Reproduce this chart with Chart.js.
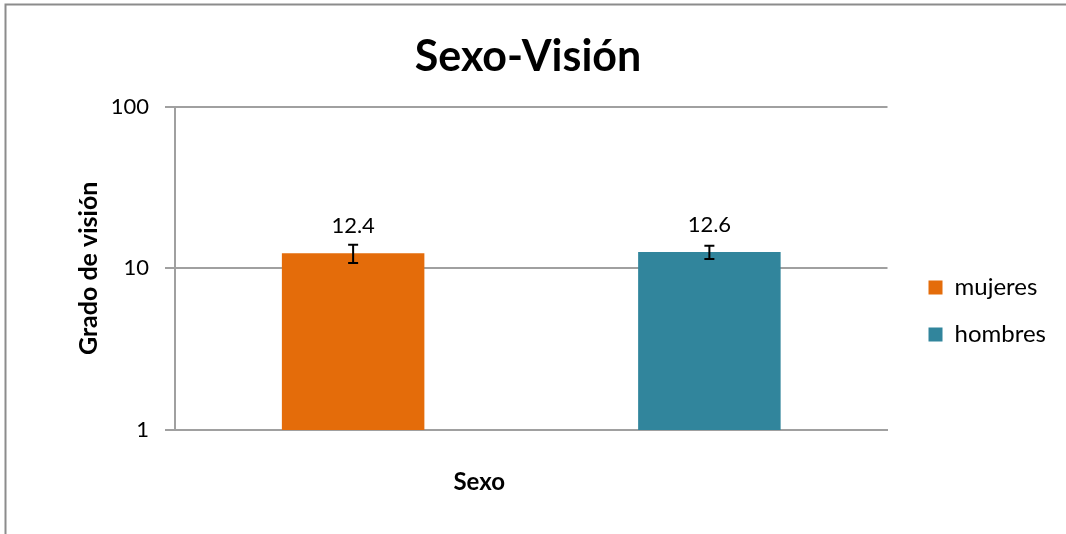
<!DOCTYPE html>
<html>
<head>
<meta charset="utf-8">
<script src="https://cdn.jsdelivr.net/npm/chart.js@4"></script>
<style>
  html, body { margin: 0; padding: 0; background: #fff; }
  #wrap { width: 1066px; height: 534px; }
</style>
</head>
<body>
<div id="wrap"><canvas id="chart"></canvas></div>
<script>
// Data
const categories = ['mujeres', 'hombres'];
const mujeresValues = [12.4, null];
const hombresValues = [null, 12.6];
const mujeresErrors = [1.6, null];
const hombresErrors = [null, 1.2];
const yTicks = [1, 10, 100];

const FONT = 'Lato';
const GRID = '#a0a0a0';

// White background and the grey frame round the chart
const framePlugin = {
    id: 'frame',
    beforeDraw(chart) {
        const ctx = chart.ctx;
        ctx.save();
        ctx.fillStyle = '#fff';
        ctx.fillRect(0, 0, chart.width, chart.height);
        ctx.strokeStyle = '#8c8c8c';
        ctx.lineWidth = 2;
        ctx.beginPath();
        ctx.moveTo(5.5, chart.height);
        ctx.lineTo(5.5, 4.5);
        ctx.lineTo(chart.width, 4.5);
        ctx.stroke();
        ctx.restore();
    }
};

// Error bars and value labels on top of each bar
const errorBarPlugin = {
    id: 'errorBars',
    afterDatasetsDraw(chart) {
        const ctx = chart.ctx;
        const yScale = chart.scales.y;
        ctx.save();
        chart.data.datasets.forEach((ds, i) => {
            const meta = chart.getDatasetMeta(i);
            meta.data.forEach((bar, j) => {
                const v = ds.data[j];
                if (v === null || v === undefined) return;
                const err = ds.errors[j];
                const yTop = yScale.getPixelForValue(v + err);
                const yBot = yScale.getPixelForValue(v - err);
                ctx.strokeStyle = '#000';
                ctx.lineWidth = 2;
                ctx.beginPath();
                ctx.moveTo(bar.x, yTop);
                ctx.lineTo(bar.x, yBot);
                ctx.moveTo(bar.x - 5, yTop);
                ctx.lineTo(bar.x + 5, yTop);
                ctx.moveTo(bar.x - 5, yBot);
                ctx.lineTo(bar.x + 5, yBot);
                ctx.stroke();

                ctx.fillStyle = '#000';
                ctx.font = '22px ' + FONT;
                ctx.textAlign = 'center';
                ctx.textBaseline = 'alphabetic';
                ctx.fillText(v.toFixed(1), bar.x, bar.y - 20);
            });
        });
        ctx.restore();
    }
};

// "Sexo" axis title, sitting a little left of the plot centre as in the original
const xTitlePlugin = {
    id: 'xTitle',
    afterDraw(chart) {
        const ctx = chart.ctx;
        const area = chart.chartArea;
        ctx.save();
        ctx.fillStyle = '#000';
        ctx.font = 'bold 24px ' + FONT;
        ctx.textAlign = 'center';
        ctx.textBaseline = 'middle';
        ctx.fillText('Sexo', (area.left + area.right) / 2 - 52, area.bottom + 52);
        ctx.restore();
    }
};

const ctx = document.getElementById('chart').getContext('2d');
new Chart(ctx, {
    type: 'bar',
    data: {
        labels: categories,
        datasets: [
            {
                label: 'mujeres',
                data: mujeresValues,
                errors: mujeresErrors,
                backgroundColor: '#e46c0a',
                borderWidth: 0
            },
            {
                label: 'hombres',
                data: hombresValues,
                errors: hombresErrors,
                backgroundColor: '#31859c',
                borderWidth: 0
            }
        ]
    },
    options: {
        responsive: true,
        maintainAspectRatio: false,
        animation: false,
        skipNull: true,
        barPercentage: 0.4,
        categoryPercentage: 1.0,
        layout: {
            padding: { top: 0, right: 10, bottom: 18, left: 0 }
        },
        plugins: {
            title: {
                display: true,
                text: 'Sexo-Visión',
                color: '#000',
                font: { family: FONT, size: 43, weight: 'bold' },
                padding: { top: 31, bottom: 24 }
            },
            legend: {
                position: 'right',
                title: {
                    display: true,
                    text: ' ',
                    font: { family: FONT, size: 10 },
                    padding: { top: 47, bottom: 47 }
                },
                labels: {
                    boxWidth: 14,
                    boxHeight: 14,
                    padding: 23,
                    color: '#000',
                    font: { family: FONT, size: 24 }
                }
            },
            tooltip: { enabled: false }
        },
        scales: {
            x: {
                grid: { display: false },
                border: { display: true, color: GRID, width: 2 },
                ticks: { display: false },
                afterFit: (scale) => { scale.height = 86; }
            },
            y: {
                type: 'logarithmic',
                min: 1,
                max: 100,
                afterBuildTicks: (scale) => {
                    scale.ticks = yTicks.map(v => ({ value: v }));
                },
                ticks: {
                    color: '#000',
                    padding: 16,
                    font: { family: FONT, size: 22 },
                    callback: (v) => String(v)
                },
                grid: { color: GRID, lineWidth: 2, tickLength: 10 },
                border: { display: true, color: GRID, width: 2 },
                title: {
                    display: true,
                    text: 'Grado de visión',
                    color: '#000',
                    font: { family: FONT, size: 25, weight: 'bold' },
                    padding: { top: 74, bottom: 0 }
                },
                afterFit: (scale) => { scale.width = 175; }
            },
            gap: {
                type: 'linear',
                position: 'right',
                display: true,
                grid: { display: false },
                ticks: { display: false },
                border: { display: false },
                afterFit: (scale) => { scale.width = 18; }
            }
        }
    },
    plugins: [framePlugin, errorBarPlugin, xTitlePlugin]
});
</script>
</body>
</html>
